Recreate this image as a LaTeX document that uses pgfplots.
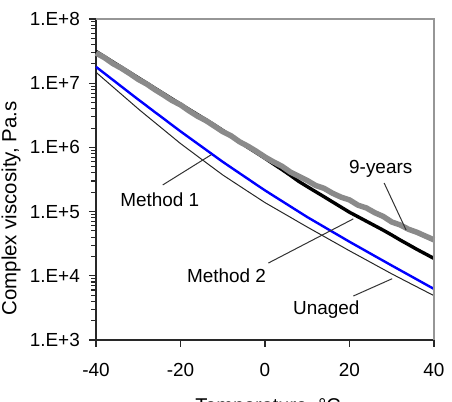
\documentclass[border=0pt]{standalone}
\usepackage{fontspec}
\setmainfont{Liberation Sans}
\usepackage{pgfplots}
\usepackage{pgfplotstable}
\pgfplotsset{compat=1.18}

\definecolor{agedgray}{RGB}{138,138,138}
\definecolor{methodblue}{RGB}{0,0,255}
\definecolor{framegray}{RGB}{150,150,150}
\definecolor{axisdark}{RGB}{40,40,40}

% Complex viscosity (Pa.s) against temperature (deg C)
\pgfplotstableread{
T    unaged   methodA  methodB  nineyears
-40  1.479e7  1.799e7  3.13e7   2.95e7
-38  1.138e7  1.422e7  2.59e7   2.50e7
-36  8.75e6   1.125e7  2.14e7   2.02e7
-34  6.73e6   8.89e6   1.77e7   1.71e7
-32  5.18e6   7.03e6   1.466e7  1.41e7
-30  3.98e6   5.56e6   1.213e7  1.146e7
-28  3.10e6   4.43e6   1.005e7  9.70e6
-26  2.42e6   3.52e6   8.30e6   7.90e6
-24  1.888e6  2.81e6   6.87e6   6.55e6
-22  1.472e6  2.23e6   5.69e6   5.37e6
-20  1.148e6  1.778e6  4.71e6   4.60e6
-18  9.16e5   1.429e6  3.91e6   3.72e6
-16  7.31e5   1.148e6  3.25e6   3.07e6
-14  5.83e5   9.23e5   2.70e6   2.62e6
-12  4.66e5   7.41e5   2.24e6   2.15e6
-10  3.72e5   5.96e5   1.84e6   1.76e6
-8   3.05e5   4.85e5   1.50e6   1.51e6
-6   2.50e5   3.95e5   1.222e6  1.22e6
-4   2.05e5   3.22e5   9.95e5   1.04e6
-2   1.683e5  2.62e5   8.22e5   8.65e5
0    1.380e5  2.14e5   6.76e5   7.08e5
2    1.159e5  1.766e5  5.52e5   5.95e5
4    9.73e4   1.459e5  4.52e5   5.10e5
6    8.17e4   1.205e5  3.67e5   4.13e5
8    6.85e4   9.95e4   2.95e5   3.55e5
10   5.75e4   8.22e4   2.45e5   3.05e5
12   4.85e4   6.89e4   2.04e5   2.55e5
14   4.09e4   5.77e4   1.70e5   2.30e5
16   3.45e4   4.83e4   1.413e5  1.93e5
18   2.91e4   4.05e4   1.175e5  1.68e5
20   2.45e4   3.39e4   9.77e4   1.52e5
22   2.08e4   2.86e4   8.32e4   1.26e5
24   1.762e4  2.41e4   7.08e4   1.14e5
26   1.493e4  2.03e4   6.03e4   9.60e4
28   1.265e4  1.714e4  5.13e4   8.40e4
30   1.072e4  1.445e4  4.32e4   6.89e4
32   9.16e3   1.222e4  3.61e4   6.20e4
34   7.83e3   1.033e4  3.05e4   5.30e4
36   6.70e3   8.73e3   2.57e4   4.75e4
38   5.73e3   7.38e3   2.19e4   4.15e4
40   4.90e3   6.24e3   1.862e4  3.63e4
}\viscosity

\newcommand\chartfont{\fontsize{19}{22}\selectfont}

\begin{document}
\begin{tikzpicture}
\useasboundingbox (0,0) rectangle (452bp,402bp);
\begin{axis}[
  at={(96bp,62bp)}, anchor=south west,
  scale only axis, width=338bp, height=321bp,
  xmin=-40, xmax=40, ymin=1e3, ymax=1e8, ymode=log,
  clip=false,
  axis x line*=bottom, axis y line*=left,
  axis line style={-, axisdark, line width=1.5bp},
  xtick={-40,-20,0,20,40}, xticklabels={-40,-20,0,20,40},
  ytick={1e3,1e4,1e5,1e6,1e7,1e8},
  yticklabels={1.E+3,1.E+4,1.E+5,1.E+6,1.E+7,1.E+8},
  yminorticks=false,
  tick align=outside, major tick length=7bp,
  every tick/.style={axisdark, line width=1.1bp},
  tick label style={font=\chartfont},
  xticklabel style={anchor=north, inner sep=0pt, yshift=-16bp},
  yticklabel style={anchor=east, inner sep=0pt, xshift=-9bp},
  xlabel={Temperature, °C},
  ylabel={Complex viscosity, Pa.s},
  xlabel style={font=\fontsize{20}{24}\selectfont,
                at={(axis description cs:0.509,-0.2252)}, anchor=base},
  ylabel style={font=\fontsize{20.5}{24}\selectfont,
                at={(axis description cs:-0.2355,0.41)}, anchor=base},
]
\addplot[black!85, line width=1bp, line join=round] table[x=T, y=unaged] {\viscosity};
\addplot[methodblue, line width=2.4bp, line join=round] table[x=T, y=methodA] {\viscosity};
\addplot[black, line width=3.4bp, line join=round] table[x=T, y=methodB] {\viscosity};
\addplot[agedgray, line width=5.5bp, line join=round] table[x=T, y=nineyears] {\viscosity};

% right and top frame
\draw[framegray, line width=1.2bp] (rel axis cs:0,1) -- (rel axis cs:1,1) -- (rel axis cs:1,0);

% short ticks between the decades on the viscosity axis
\pgfplotsinvokeforeach{2e3,3e3,4e3,5e3,6e3,7e3,8e3,9e3,
                       2e4,3e4,4e4,5e4,6e4,7e4,8e4,9e4,
                       2e5,3e5,4e5,5e5,6e5,7e5,8e5,9e5,
                       2e6,3e6,4e6,5e6,6e6,7e6,8e6,9e6,
                       2e7,3e7,4e7,5e7,6e7,7e7,8e7,9e7}{
  \draw[axisdark, line width=1.1bp] ([xshift=-0.7bp]axis cs:-40,#1) -- ([xshift=-5.2bp]axis cs:-40,#1);
}

% labels with leader lines
\draw[black!80, line width=1bp] (axis cs:-24.2,2.6e5) -- (axis cs:-12.7,7.7e5);
\node[font=\chartfont, anchor=base] at (axis cs:-24.9,1.22e5) {Method 1};

\draw[black!80, line width=1bp] (axis cs:0.8,1.58e4) -- (axis cs:20.9,7.7e4);
\node[font=\chartfont, anchor=base] at (axis cs:-9.1,7.73e3) {Method 2};

\draw[black!80, line width=1bp] (axis cs:28.2,2.79e5) -- (axis cs:33.4,5.16e4);
\node[font=\chartfont, anchor=base] at (axis cs:27.4,3.99e5) {9-years};

\draw[black!80, line width=1bp] (axis cs:20.9,4.84e3) -- (axis cs:30.1,9.0e3);
\node[font=\chartfont, anchor=base] at (axis cs:14.5,2.49e3) {Unaged};
\end{axis}
\end{tikzpicture}
\end{document}
